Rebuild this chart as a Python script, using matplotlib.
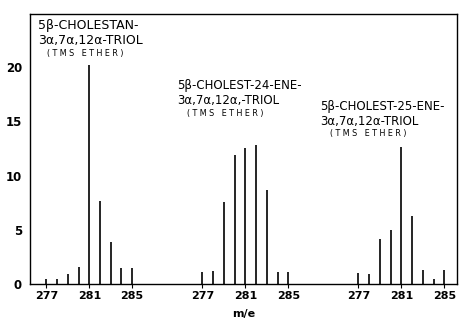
import matplotlib
matplotlib.use("Agg")
import matplotlib.pyplot as plt

# =====================
# data (relative intensity vs m/e, three spectra)
# =====================
MASSES = [277, 278, 279, 280, 281, 282, 283, 284, 285]
TRIOL = [0.5, 0.5, 0.9, 1.6, 20.2, 7.7, 3.9, 1.5, 1.5]
ENE24 = [1.1, 1.2, 7.6, 11.9, 12.5, 12.8, 8.7, 1.1, 1.1]
ENE25 = [1.0, 0.9, 4.2, 5.0, 12.6, 6.3, 1.3, 0.5, 1.3]
TICK_MASSES = [277, 281, 285]
NAMES = [
    ["5β-CHOLESTAN-", "3α,7α,12α-TRIOL"],
    ["5β-CHOLEST-24-ENE-", "3α,7α,12α,-TRIOL"],
    ["5β-CHOLEST-25-ENE-", "3α,7α,12α-TRIOL"],
]
SPECTRA = [TRIOL, ENE24, ENE25]
GROUP_SHIFT = 14.55   # spacing between spectra on the shared axis

# =====================
# figure
# =====================
fig = plt.figure(figsize=(4.59, 3.2), dpi=100)
ax = fig.add_axes([0.066, 0.112, 0.93, 0.845])

xt, xl = [], []
for g, vals in enumerate(SPECTRA):
    xs = [m - 277 + g * GROUP_SHIFT for m in MASSES]
    ax.vlines(xs, 0, vals, color="black", lw=1.2)
    for m in TICK_MASSES:
        xt.append(m - 277 + g * GROUP_SHIFT)
        xl.append(str(m))

# compound labels
label_pos = [(-0.8, 24.4), (12.2, 18.9), (25.5, 17.0)]
font_sizes = [9, 8.5, 8.5]
for (x, y), name, fs in zip(label_pos, NAMES, font_sizes):
    ax.text(x, y, name[0] + "\n" + name[1], fontsize=fs, ha="left", va="top",
            linespacing=1.2)
    ax.text(x + 0.9, y - 2.75, "( T M S   E T H E R )", fontsize=5.8,
            ha="left", va="top")

ax.set_xlim(-1.5, 38.3)
ax.set_ylim(0, 24.9)
ax.set_xticks(xt)
ax.set_xticklabels(xl, fontsize=8, fontweight="bold")
ax.set_yticks([0, 5, 10, 15, 20])
ax.set_yticklabels(["0", "5", "10", "15", "20"], fontsize=8.5, fontweight="bold")
ax.tick_params(axis="y", length=0, pad=6)
ax.tick_params(axis="x", length=3, direction="out", pad=2)
ax.set_xlabel("m/e", fontsize=8, fontweight="bold", labelpad=6)
for s in ax.spines.values():
    s.set_linewidth(1.0)

fig.savefig("out.png", dpi=100)
plt.close()
